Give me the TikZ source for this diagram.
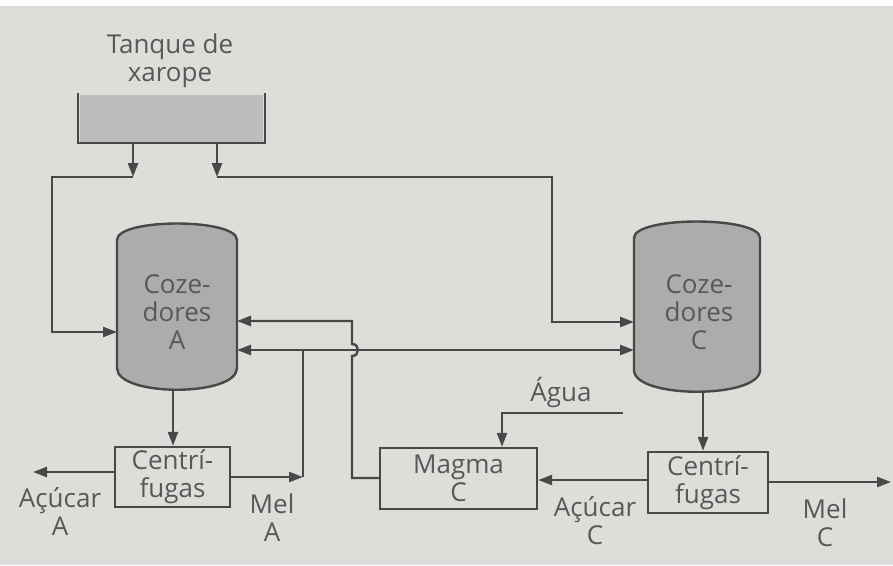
\documentclass[tikz,border=0pt]{standalone}
\usepackage{fontspec}
\setmainfont{Open Sans}
\usetikzlibrary{arrows.meta,calc}
\definecolor{bg}{RGB}{221,221,218}
\definecolor{ln}{RGB}{72,72,72}
\definecolor{tx}{RGB}{88,88,88}
\definecolor{cylfill}{RGB}{172,172,170}
\definecolor{tankfill}{RGB}{188,188,186}
\begin{document}
\begin{tikzpicture}[x=1pt,y=-1pt,
  line/.style={draw=ln,line width=2.4pt},
  arr/.style={line,-{Triangle[length=14pt,width=10pt]}},
  lbl/.style={text=tx,font=\fontsize{26}{28}\selectfont,align=center,inner sep=0pt},
  box/.style={draw=ln,line width=2.4pt,fill=bg,inner sep=0pt},
  anchorbox/.style={inner sep=0pt,outer sep=0pt}]
\fill[bg] (0,0) rectangle (893,565);
\fill[white] (0,0) rectangle (893,6);
\useasboundingbox (0,0) rectangle (893,565);

% tank
\fill[tankfill] (80,95) rectangle (263,142);
\draw[line] (78,93) -- (78,143) -- (265,143) -- (265,93);
\node[anchorbox,minimum width=187pt,minimum height=50pt] (tank) at (171.5,118) {};
\node[lbl] (tanktxt) at (170,61) {Tanque de\\xarope};

% cylinders
\path[fill=cylfill,draw=ln,line width=2.4pt] (117,240) .. controls (117,218) and (237,218) .. (237,240) -- (237,368) .. controls (237,397) and (117,397) .. (117,368) -- cycle;
\node[anchorbox,minimum width=120pt,minimum height=168pt] (cylA) at (177,306) {};
\node[lbl] (cylAtxt) at (177,312) {Coze-\\dores\\A};

\path[fill=cylfill,draw=ln,line width=2.4pt] (634,238) .. controls (634,216) and (760,216) .. (760,238) -- (760,370) .. controls (760,399) and (634,399) .. (634,370) -- cycle;
\node[anchorbox,minimum width=126pt,minimum height=170pt] (cylC) at (697,307) {};
\node[lbl] (cylCtxt) at (699,312) {Coze-\\dores\\C};

% boxes
\node[box,lbl,minimum width=115pt,minimum height=60pt] (cfA) at (172.5,477) {Centrí-\\fugas};
\node[box,lbl,minimum width=157pt,minimum height=61pt] (mgC) at (458.5,478.5) {Magma\\C};
\node[box,lbl,minimum width=120pt,minimum height=61pt] (cfC) at (708,482.5) {Centrí-\\fugas};

% labels
\node[lbl] (acA) at (60,512) {Açúcar\\A};
\node[lbl] (melA) at (272,518) {Mel\\A};
\node[lbl] (agua) at (561,393) {Água};
\node[lbl] (acC) at (595,521) {Açúcar\\C};
\node[lbl] (melC) at (825,523) {Mel\\C};

% coordinates
\coordinate (t1) at (133,177);
\coordinate (t2) at (217,177);
\coordinate (l1) at (52,177);
\coordinate (l2) at (52,332);
\coordinate (r1) at (552,177);
\coordinate (r2) at (552,322);
\coordinate (aA) at (33,472);
\coordinate (mA) at (303,477);
\coordinate (mA2) at (303,350);
\coordinate (g1) at (352,478);
\coordinate (g2) at (352,321);
\coordinate (w1) at (623,413);
\coordinate (w2) at (502,413);
\coordinate (ca) at (173,0);
\coordinate (cc) at (703,0);
\coordinate (ac) at (600,480);
\coordinate (mc) at (891,482);

% connectors
\draw[arr] (t1 |- tank.south) -- (t1);
\draw[arr] (t1) -- (l1) -- (l2) -- (cylA.west |- l2);
\draw[arr] (t2 |- tank.south) -- (t2);
\draw[arr] (t2) -- (r1) -- (r2) -- (cylC.west |- r2);

\draw[arr] (ca |- cylA.south) -- (ca |- cfA.north);
\draw[arr] (cfA.west |- aA) -- (aA);
\draw[arr] (cfA.east |- mA) -- (mA);
\draw[line] (mA) -- (mA2);
\draw[arr] (mA2) -- (cylA.east |- mA2);
\draw[arr] (mA2) -- (cylC.west |- mA2);

\draw[arr] (mgC.west |- g1) -- (g1) -- (352,356) .. controls (360,356) and (360,344) .. (352,344) -- (g2) -- (cylA.east |- g2);

\draw[arr] (w1) -- (w2) -- (w2 |- mgC.north);

\draw[arr] (cc |- cylC.south) -- (cc |- cfC.north);
\draw[arr] (cfC.west |- ac) -- (mgC.east |- ac);
\draw[arr] (cfC.east |- mc) -- (mc);
\end{tikzpicture}
\end{document}
